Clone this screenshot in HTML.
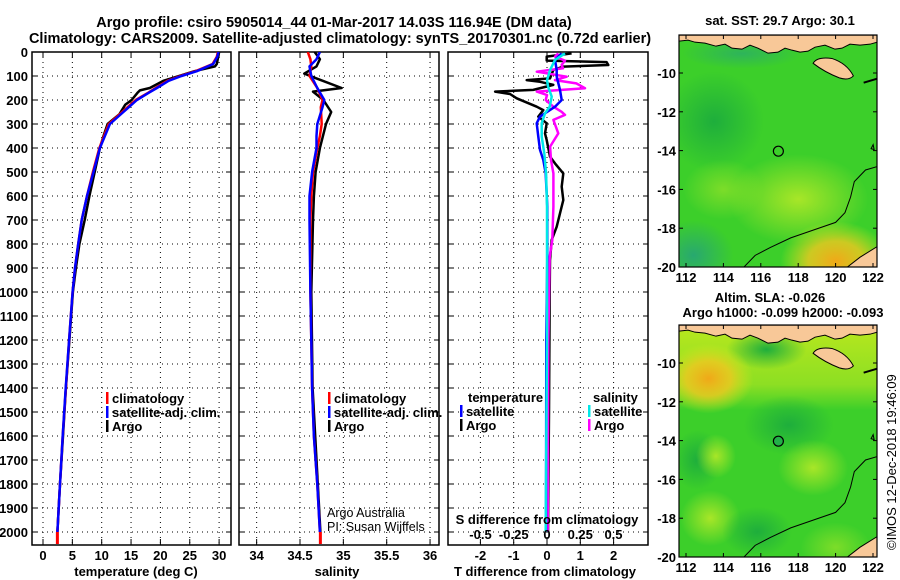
<!DOCTYPE html>
<html><head><meta charset="utf-8">
<style>
html,body{margin:0;padding:0;background:#fff;}
svg{display:block;font-family:"Liberation Sans",Arial,sans-serif;}
.b{font-weight:bold;}
</style></head>
<body>
<svg id="fig" width="900" height="580" viewBox="0 0 900 580" xmlns="http://www.w3.org/2000/svg">
<defs>
<clipPath id="c1"><rect x="32" y="52" width="199" height="493"/></clipPath>
<clipPath id="c2"><rect x="239" y="52" width="200" height="493"/></clipPath>
<clipPath id="c3"><rect x="448" y="52" width="200" height="493"/></clipPath>
<clipPath id="cm1"><rect x="679" y="35" width="198" height="232"/></clipPath>
<clipPath id="cm2"><rect x="679" y="325" width="198" height="232"/></clipPath>
<radialGradient id="gY"><stop offset="0" stop-color="#f0d818"/><stop offset="1" stop-color="#f0d818" stop-opacity="0"/></radialGradient>
<radialGradient id="gO"><stop offset="0" stop-color="#f0a818"/><stop offset="0.5" stop-color="#f0c820" stop-opacity="0.8"/><stop offset="1" stop-color="#d8e820" stop-opacity="0"/></radialGradient>
<radialGradient id="gL"><stop offset="0" stop-color="#a8e628"/><stop offset="1" stop-color="#a8e628" stop-opacity="0"/></radialGradient>
<radialGradient id="gD"><stop offset="0" stop-color="#1eae3c"/><stop offset="1" stop-color="#1eae3c" stop-opacity="0"/></radialGradient>
<radialGradient id="gT"><stop offset="0" stop-color="#28a870"/><stop offset="1" stop-color="#28a870" stop-opacity="0"/></radialGradient>
<linearGradient id="gBand" x1="0" y1="0" x2="0" y2="1"><stop offset="0" stop-color="#c8ea1c" stop-opacity="0.9"/><stop offset="0.7" stop-color="#b0e620" stop-opacity="0.7"/><stop offset="1" stop-color="#b0e620" stop-opacity="0"/></linearGradient>
</defs>
<g id="titles">
<text class="b" x="334" y="27" font-size="14.5" text-anchor="middle">Argo profile: csiro 5905014_44 01-Mar-2017 14.03S 116.94E (DM data)</text>
<text class="b" x="340" y="43" font-size="14.5" text-anchor="middle">Climatology: CARS2009. Satellite-adjusted climatology: synTS_20170301.nc (0.72d earlier)</text>
</g>
<g id="p1"></g>
<g id="p2"></g>
<g id="p3"></g>
<g id="m1"></g>
<g id="m2"></g>
<text transform="translate(896,550) rotate(-90)" font-size="13">©IMOS 12-Dec-2018 19:46:09</text>
</svg>
<script>
// ---- data ----
const tDepth = [0,20,50,80,100,120,150,170,200,250,300,400,500,600,700,800,900,1000,1200,1400,1600,1800,2000];
const tClim  = [29.8,29.6,28.9,26.0,23.4,21.2,19.2,17.9,15.8,13.5,11.2,9.6,8.5,7.5,6.6,6.0,5.45,5.05,4.45,3.9,3.35,2.9,2.45];
const tSat   = [29.9,29.7,29.0,26.2,23.6,21.4,19.4,18.0,16.0,13.7,11.4,9.7,8.6,7.5,6.6,6.0,5.45,5.05,4.45,3.87,3.35,2.9,2.45];
const tArgoDepth = [0,50,60,80,100,120,150,160,170,200,220,260,300,350,400,500,600,700,800,900,1000,1200,1400,1600,1800,2000];
const tArgo      = [30.0,29.6,29.3,25.8,23.2,20.5,18.2,16.5,16.1,15.1,14.0,13.0,11.0,10.3,9.7,8.8,7.9,7.1,6.2,5.6,5.1,4.5,3.9,3.4,2.9,2.45];

const sDepth = [0,30,60,100,150,200,230,300,350,400,500,600,700,1000,1200,1400,1600,1800,2000];
const sClim  = [34.59,34.62,34.63,34.61,34.70,34.76,34.74,34.75,34.73,34.70,34.65,34.63,34.62,34.62,34.63,34.64,34.66,34.70,34.73];
const sSat   = [34.73,34.69,34.61,34.63,34.70,34.78,34.76,34.70,34.69,34.69,34.64,34.61,34.61,34.62,34.63,34.64,34.66,34.70,34.73];
const sArgoDepth = [0,30,60,90,110,150,165,200,250,300,400,500,600,700,1000,1400,2000];
const sArgo      = [34.67,34.73,34.69,34.55,34.69,34.98,34.65,34.77,34.86,34.80,34.73,34.68,34.66,34.65,34.63,34.645,34.735];

const dtArgoDepth = [6,19,36,42,54,61,75,110,117,124,137,158,165,175,193,228,242,269,297,339,367,436,464,506,561,617,672,728,783,867,1000,1500,2000];
const dtArgo      = [0.74,-0.01,-0.01,1.79,1.84,0.49,0.19,0.09,-0.61,-0.21,0.19,-0.41,-1.56,-1.11,-0.91,-0.31,-0.11,-0.26,-0.01,-0.06,-0.01,0.09,0.24,0.49,0.44,0.49,0.39,0.29,0.14,0.09,0.08,0.06,0.03];
const dtSatDepth = [6,33,75,103,158,200,228,269,297,353,408,450,506,644,853,1200,2000];
const dtSat      = [0.44,0.24,0.29,0.29,0.39,0.44,0.24,-0.21,-0.31,-0.26,-0.21,-0.11,-0.04,0.01,0.01,-0.02,-0.03];
const dsArgoDepth = [6,19,36,54,68,82,103,117,131,151,165,179,200,228,249,262,283,339,394,450,506,644,783,853,1200,2000];
const dsArgo      = [0.085,0.06,0.135,0.11,0.12,-0.077,0.148,0.06,0.22,0.286,-0.077,0.0,-0.01,0.048,0.11,0.135,0.048,0.085,0.023,0.03,0.048,0.048,0.04,0.02,0.01,0.005];
const dsSatDepth = [6,33,75,117,145,186,228,256,297,353,422,506,644,853,1200,2000];
const dsSat      = [0.135,0.06,0.023,0.0,0.008,0.035,0.02,-0.015,-0.04,-0.04,-0.02,-0.007,0.0,0.0,0.0,-0.01];

const depthTicks = [0,100,200,300,400,500,600,700,800,900,1000,1100,1200,1300,1400,1500,1600,1700,1800,1900,2000];
const tTicks = [0,5,10,15,20,25,30];
const sTicks = [34,34.5,35,35.5,36];
const sTickLabels = ["34","34.5","35","35.5","36"];
const dtTicks = [-2,-1,0,1,2];
const dsTicks = [-0.5,-0.25,0,0.25,0.5];
const dsTickLabels = ["-0.5","-0.25","0","0.25","0.5"];
const lonTicks = [112,114,116,118,120,122];
const latTicks = [-10,-12,-14,-16,-18,-20];
const argoLon = 116.94, argoLat = -14.03;

// ---- scales ----
const NS="http://www.w3.org/2000/svg";
const Y = d => 52 + d*0.24;
const XT = v => 43 + v*5.87;
const XS = v => 300 + (v-34.5)*86.7;
const XDT = v => 547 + v*33.3;
const XDS = v => 547 + v*133;
const LX = lon => 686 + (lon-112)*18.7;
const LY1 = lat => 73 + (-10-lat)*19.4;
const LY2 = lat => 363 + (-10-lat)*19.4;

function el(parent, tag, attrs, txt){
  const e=document.createElementNS(NS,tag);
  for(const k in attrs) e.setAttribute(k,attrs[k]);
  if(txt!==undefined) e.textContent=txt;
  parent.appendChild(e); return e;
}
function frame(g,x0,x1){
  const r=el(g,'rect',{x:x0,y:52,width:x1-x0,height:493,fill:'none',stroke:'#000','stroke-width':1.5});
  
  
  depthTicks.forEach(d=>{
    const l=el(g,'line',{x1:x0,x2:x1,y1:Y(d),y2:Y(d),stroke:'#000','stroke-width':1,'stroke-dasharray':'1,4'});
    
    
    el(g,'line',{x1:x0,x2:x0+5,y1:Y(d),y2:Y(d),stroke:'#000'});
    el(g,'line',{x1:x1-5,x2:x1,y1:Y(d),y2:Y(d),stroke:'#000'});
  });
}
function vgrid(g,ticks,fx,labels,ly,show){
  ticks.forEach((t,i)=>{
    const x=fx(t);
    const l=el(g,'line',{x1:x,x2:x,y1:52,y2:545,stroke:'#000','stroke-width':1,'stroke-dasharray':'1,4'});
    
    
    el(g,'line',{x1:x,x2:x,y1:545,y2:539,stroke:'#000'});
    el(g,'line',{x1:x,x2:x,y1:52,y2:58,stroke:'#000'});
    if(show){
      const tx=el(g,'text',{x:x,y:ly,'font-size':13,'text-anchor':'middle','class':'b'},labels?labels[i]:String(t));
      
      
    }
  });
}
function line(g,xs,ds,fx,color,name,w){
  const pts=xs.map((v,i)=>fx(v).toFixed(1)+','+Y(ds[i]).toFixed(1)).join(' ');
  const p=el(g,'polyline',{points:pts,fill:'none',stroke:color,'stroke-width':w||2.5,'stroke-linejoin':'round'});
  
  
}
function legend(g,x,y,color,label,name){
  el(g,'rect',{x:x,y:y-11,width:2.5,height:12,fill:color});
  const t=el(g,'text',{x:x+6,y:y,'font-size':13,'class':'b'},label);
  
  
}

// Panel 1
const p1=document.getElementById('p1');
frame(p1,32,231);
vgrid(p1,tTicks,XT,null,560,true);
depthTicks.forEach(d=>{
  const t=el(p1,'text',{x:28,y:Y(d)+5,'font-size':13,'text-anchor':'end','class':'b'},String(d));
  
  
});
const g1=el(p1,'g',{'clip-path':'url(#c1)'});
line(g1,tArgo,tArgoDepth,XT,'#000','temperature-argo-line');
line(g1,tClim,tDepth,XT,'#f00','temperature-climatology-line');
line(g1,tSat,tDepth,XT,'#00f','temperature-satellite-line');
el(p1,'rect',{x:XT(2.45)-1.5,y:Y(2000),width:3,height:12,fill:'#f00'});
legend(p1,106,403,'#f00','climatology','legend-climatology');
legend(p1,106,417,'#00f','satellite-adj. clim.','legend-satellite-adj');
legend(p1,106,431,'#000','Argo','legend-argo');
const xl1=el(p1,'text',{x:136,y:576,'font-size':13,'text-anchor':'middle','class':'b'},'temperature (deg C)');



// Panel 2
const p2=document.getElementById('p2');
frame(p2,239,439);
vgrid(p2,sTicks,XS,sTickLabels,560,true);
const g2=el(p2,'g',{'clip-path':'url(#c2)'});
line(g2,sArgo,sArgoDepth,XS,'#000','salinity-argo-line');
line(g2,sClim,sDepth,XS,'#f00','salinity-climatology-line');
line(g2,sSat,sDepth,XS,'#00f','salinity-satellite-line');
el(p2,'rect',{x:XS(34.735)-1.5,y:Y(2000),width:3,height:12,fill:'#f00'});
legend(p2,328,403,'#f00','climatology','legend-climatology-s');
legend(p2,328,417,'#00f','satellite-adj. clim.','legend-satellite-adj-s');
legend(p2,328,431,'#000','Argo','legend-argo-s');
const c1=el(p2,'text',{x:327,y:517,'font-size':12.5},'Argo Australia');


const c2=el(p2,'text',{x:327,y:531,'font-size':12.5},'PI: Susan Wijffels');


const xl2=el(p2,'text',{x:337,y:576,'font-size':13,'text-anchor':'middle','class':'b'},'salinity');



// Panel 3
const p3=document.getElementById('p3');
frame(p3,448,648);
vgrid(p3,dtTicks,XDT,null,560,true);
const g3=el(p3,'g',{'clip-path':'url(#c3)'});
line(g3,dtArgo,dtArgoDepth,XDT,'#000','tdiff-argo-line');
line(g3,dsArgo,dsArgoDepth,XDS,'#ff00ff','sdiff-argo-line');
line(g3,dtSat,dtSatDepth,XDT,'#0000ff','tdiff-satellite-line');
line(g3,dsSat,dsSatDepth,XDS,'#00e8e8','sdiff-satellite-line');
const lt=el(p3,'text',{x:468,y:402,'font-size':13,'class':'b'},'temperature');


const ls=el(p3,'text',{x:593,y:402,'font-size':13,'class':'b'},'salinity');


legend(p3,460,416,'#00f','satellite','legend-t-satellite');
legend(p3,460,430,'#000','Argo','legend-t-argo');
legend(p3,588,416,'#00e8e8','satellite','legend-s-satellite');
legend(p3,588,430,'#ff00ff','Argo','legend-s-argo');
const st=el(p3,'text',{x:547,y:524,'font-size':13,'text-anchor':'middle','class':'b'},'S difference from climatology');


dsTicks.forEach((t,i)=>{
  const tx=el(p3,'text',{x:XDS(t),y:539,'font-size':13,'text-anchor':'middle','class':'b'},dsTickLabels[i]);
  
  
});
const xl3=el(p3,'text',{x:545,y:576,'font-size':13,'text-anchor':'middle','class':'b'},'T difference from climatology');



// Maps
function coast(g,LY){
  const land='#f8c898';
  const top=LY(-8.05);
  const o=top;
  // north coast islands (pixel offsets relative to map top)
  const north=[[679,0],[877,0],[877,7],[870,9],[860,10],[850,9],[842,13],[835,14],[825,10],[815,12],[808,16],[800,17],[792,15],[785,13],[778,17],[768,18],[758,13],[750,10],[742,14],[732,13],[725,9],[716,11],[705,8],[695,7],[688,5],[679,6]];
  el(g,'path',{d:'M'+north.map(p=>p[0]+','+(o+p[1])).join(' L')+' Z',fill:land,stroke:'#000','stroke-width':1});
  // Sumba
  el(g,'path',{d:`M${LX(118.8)},${LY(-9.5)} Q${LX(119.0)},${LY(-9.15)} ${LX(119.8)},${LY(-9.25)} Q${LX(120.6)},${LY(-9.5)} ${LX(120.95)},${LY(-10.15)} Q${LX(120.7)},${LY(-10.4)} ${LX(120.2)},${LY(-10.25)} Q${LX(119.4)},${LY(-9.95)} ${LX(118.8)},${LY(-9.5)} Z`,fill:land,stroke:'#000','stroke-width':1});
  // Australia corner
  el(g,'path',{d:`M${LX(122.3)},${LY(-18.9)} L${LX(121.3)},${LY(-19.5)} L${LX(120.5)},${LY(-20.1)} L${LX(122.3)},${LY(-20.1)} Z`,fill:land,stroke:'#000','stroke-width':1});
  // bathymetric contour
  el(g,'polyline',{points:[[122.3,-14.8],[121.6,-15.0],[121.0,-15.6],[120.8,-16.4],[120.5,-17.2],[120.0,-17.7],[118.8,-18.1],[117.6,-18.5],[116.5,-19.0],[115.7,-19.4],[115.0,-20.1]].map(p=>LX(p[0])+','+LY(p[1])).join(' '),fill:'none',stroke:'#000','stroke-width':1});
  el(g,'path',{d:`M${LX(121.9)},${LY(-13.9)} l2,-4 l1,5 z`,fill:'none',stroke:'#000'});
  el(g,'line',{x1:LX(121.5),y1:LY(-10.5),x2:LX(122.2),y2:LY(-10.3),stroke:'#000','stroke-width':2});
}
function mapAxes(g,LY,top,lonY){
  el(g,'rect',{x:679,y:top,width:198,height:232,fill:'none',stroke:'#000','stroke-width':1.2});
  lonTicks.forEach(l=>{
    el(g,'line',{x1:LX(l),x2:LX(l),y1:top,y2:top+4,stroke:'#000'});
    el(g,'line',{x1:LX(l),x2:LX(l),y1:top+232,y2:top+228,stroke:'#000'});
    const t=el(g,'text',{x:LX(l),y:lonY,'font-size':13,'text-anchor':'middle','class':'b'},String(l));
    
    
  });
  latTicks.forEach(l=>{
    el(g,'line',{x1:679,x2:683,y1:LY(l),y2:LY(l),stroke:'#000'});
    el(g,'line',{x1:877,x2:873,y1:LY(l),y2:LY(l),stroke:'#000'});
    const t=el(g,'text',{x:676,y:LY(l)+5,'font-size':13,'text-anchor':'end','class':'b'},String(l));
    
    
  });
  const c=el(g,'circle',{cx:LX(argoLon),cy:LY(argoLat),r:5,fill:'none',stroke:'#000','stroke-width':1.2});
  
  
}
const m1=document.getElementById('m1');
const mg1=el(m1,'g',{'clip-path':'url(#cm1)'});
el(mg1,'rect',{x:679,y:35,width:198,height:232,fill:'#3ccf2a'});
el(mg1,'ellipse',{cx:LX(113.5),cy:LY1(-12.5),rx:50,ry:50,fill:'url(#gD)'});
el(mg1,'ellipse',{cx:LX(118),cy:LY1(-16.5),rx:70,ry:45,fill:'url(#gL)'});
el(mg1,'ellipse',{cx:LX(114),cy:LY1(-16),rx:40,ry:30,fill:'url(#gL)','opacity':0.6});
el(mg1,'ellipse',{cx:LX(112.4),cy:LY1(-19.4),rx:40,ry:35,fill:'url(#gT)'});
el(mg1,'ellipse',{cx:LX(120),cy:LY1(-19.7),rx:55,ry:40,fill:'url(#gO)'});
el(mg1,'ellipse',{cx:LX(115),cy:LY1(-9),rx:60,ry:15,fill:'url(#gT)','opacity':0.7});
coast(mg1,LY1);
mapAxes(m1,LY1,35,282);
const mt1=el(m1,'text',{x:780,y:25,'font-size':13,'text-anchor':'middle','class':'b'},'sat. SST: 29.7 Argo: 30.1');



const m2=document.getElementById('m2');
const mg2=el(m2,'g',{'clip-path':'url(#cm2)'});
el(mg2,'rect',{x:679,y:325,width:198,height:232,fill:'#3ccf2a'});
el(mg2,'rect',{x:679,y:325,width:198,height:85,fill:'url(#gBand)'});
el(mg2,'ellipse',{cx:LX(116.3),cy:LY2(-9.3),rx:40,ry:20,fill:'url(#gD)'});
el(mg2,'ellipse',{cx:LX(113.2),cy:LY2(-10.8),rx:45,ry:35,fill:'url(#gO)'});
el(mg2,'ellipse',{cx:LX(117.5),cy:LY2(-13.2),rx:45,ry:30,fill:'url(#gD)'});
el(mg2,'ellipse',{cx:LX(112.6),cy:LY2(-15),rx:25,ry:30,fill:'url(#gD)'});
el(mg2,'ellipse',{cx:LX(118.8),cy:LY2(-15.4),rx:35,ry:28,fill:'url(#gL)'});
el(mg2,'ellipse',{cx:LX(113.6),cy:LY2(-14.8),rx:20,ry:22,fill:'url(#gL)'});
el(mg2,'ellipse',{cx:LX(113.3),cy:LY2(-18),rx:30,ry:28,fill:'url(#gL)'});
el(mg2,'ellipse',{cx:LX(115.8),cy:LY2(-18.7),rx:35,ry:25,fill:'url(#gD)'});
el(mg2,'ellipse',{cx:LX(120),cy:LY2(-19.5),rx:35,ry:25,fill:'url(#gL)','opacity':0.6});
coast(mg2,LY2);
el(mg2,'circle',{cx:LX(argoLon),cy:LY2(argoLat),r:5,fill:'#22b048'});
mapAxes(m2,LY2,325,572);
const mt2=el(m2,'text',{x:770,y:302,'font-size':13,'text-anchor':'middle','class':'b'},'Altim. SLA: -0.026');


const mt3=el(m2,'text',{x:783,y:317,'font-size':13,'text-anchor':'middle','class':'b'},'Argo h1000: -0.099 h2000: -0.093');


</script>
</body></html>
